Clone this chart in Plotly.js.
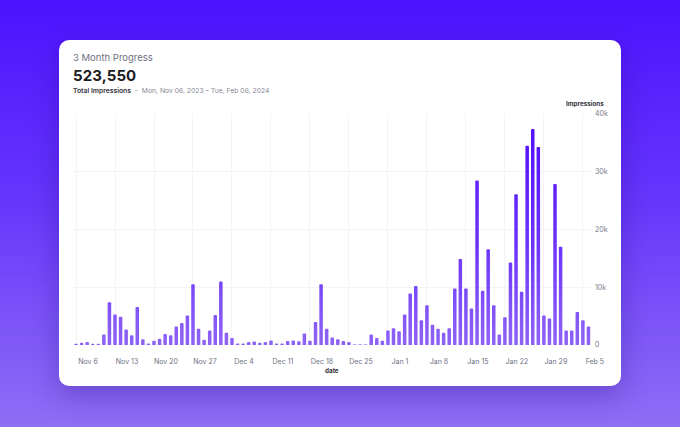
<!DOCTYPE html>
<html>
<head>
<meta charset="utf-8">
<script src="https://cdn.plot.ly/plotly-3.0.1.min.js"></script>
<style>
html,body{margin:0;padding:0;width:680px;height:427px;overflow:hidden;font-family:Inter,"Noto Sans",sans-serif;}
body{background:linear-gradient(180deg,#4d12ff 0%,#6534fc 45%,#8f6ef5 100%);position:relative;}
#card{position:absolute;left:59px;top:40px;width:562px;height:346px;background:#fff;border-radius:10px;box-shadow:0 10px 28px rgba(30,0,100,0.28);}
.txt{position:absolute;white-space:nowrap;}
#t1{left:73px;top:52px;font-size:9.5px;color:#70707f;}
#t2{left:73px;top:66px;font-size:15px;font-weight:700;color:#1c1c22;letter-spacing:0.1px;}
#t3{left:73px;top:86px;font-size:6.8px;color:#8a8a98;}
#t3 b{font-weight:600;color:#33333d;}
#chart{position:absolute;left:0;top:0;width:680px;height:427px;}
</style>
</head>
<body>
<div id="card"></div>
<div class="txt" id="t1">3 Month Progress</div>
<div class="txt" id="t2">523,550</div>
<div class="txt" id="t3"><b>Total Impressions</b>&nbsp; - &nbsp;Mon, Nov 06, 2023 – Tue, Feb 06, 2024</div>
<div id="chart"></div>
<script>
// Daily impressions from Mon Nov 06, 2023 to Tue Feb 06, 2024 (93 days)
const startDate = '2023-11-06';
const impressions = [
  200, 400, 500, 200, 200, 1800, 7400, 5300, 4900, 2700, 1700, 6600, 1000,
  250, 750, 1100, 1900, 1700, 3200, 3800, 5100, 10500, 2800, 900, 2500, 5200, 11000, 2100, 1200,
  250, 250, 500, 600, 400, 500, 800, 250, 250, 700, 800, 650, 2000, 750, 4000, 10500, 2800, 1300, 1000, 700, 500, 100, 100, 100,
  1800, 1200, 750, 2500, 2900, 2400, 5300, 8900, 10200, 4300, 6900, 3500, 2800, 2100, 2900,
  9800, 14900, 9800, 6300, 28500, 9400, 16600, 6900, 1800, 4800, 14300, 26100, 9200,
  34500, 37400, 34300, 5100, 4600, 27900, 17000, 2500, 2500, 5700, 4300, 3200
];
const tickDates = ['2023-11-06','2023-11-13','2023-11-20','2023-11-27','2023-12-04','2023-12-11','2023-12-18','2023-12-25','2024-01-01','2024-01-08','2024-01-15','2024-01-22','2024-01-29','2024-02-05'];
const tickLabels = ['Nov 6','Nov 13','Nov 20','Nov 27','Dec 4','Dec 11','Dec 18','Dec 25','Jan 1','Jan 8','Jan 15','Jan 22','Jan 29','Feb 5'];
const yTickVals = [0, 10000, 20000, 30000, 40000];
const yTickLabels = ['0', '10k', '20k', '30k', '40k'];

const dates = impressions.map((_, i) => {
  const d = new Date(startDate + 'T00:00:00Z');
  d.setUTCDate(d.getUTCDate() + i);
  return d.toISOString().slice(0, 10);
});

const trace = {
  type: 'bar',
  x: dates,
  y: impressions,
  marker: {
    color: impressions,
    colorscale: [[0, '#8d62f5'], [1, '#5410ff']],
    cmin: 0, cmax: 40000,
    line: {width: 0},
    cornerradius: 2
  },
  hoverinfo: 'skip'
};

const layout = {
  width: 680, height: 427,
  margin: {l: 73, r: 89, t: 114, b: 82},
  paper_bgcolor: 'rgba(0,0,0,0)',
  plot_bgcolor: 'rgba(0,0,0,0)',
  bargap: 0.37,
  showlegend: false,
  font: {family: 'Inter, "Noto Sans", sans-serif'},
  xaxis: {
    type: 'date',
    range: ['2023-11-05 11:00', '2024-02-06 11:00'],
    tickvals: tickDates,
    ticktext: tickLabels,
    tickfont: {size: 7, color: '#6f7084'},
    ticklabelshift: 12,
    ticklabelstandoff: 11,
    showgrid: true,
    gridcolor: '#f4f4f7',
    gridwidth: 1,
    zeroline: false,
    showline: false,
    ticks: ''
  },
  yaxis: {
    side: 'right',
    range: [0, 40000],
    tickvals: yTickVals,
    ticktext: yTickLabels,
    tickfont: {size: 7, color: '#7a7a8a'},
    ticklabelstandoff: 3,
    showgrid: true,
    gridcolor: '#f4f4f7',
    zeroline: false,
    showline: false,
    ticks: ''
  },
  annotations: [
    {text: '<b>Impressions</b>', xref: 'paper', yref: 'paper', x: 1.029, y: 1.043,
     xanchor: 'right', yanchor: 'middle', showarrow: false, font: {size: 6.3, color: '#33333d'}},
    {text: '<b>date</b>', xref: 'paper', yref: 'paper', x: 0.5, y: -0.113,
     xanchor: 'center', yanchor: 'middle', showarrow: false, font: {size: 6.3, color: '#33333d'}}
  ]
};

Plotly.newPlot('chart', [trace], layout, {displayModeBar: false, staticPlot: true}).then(gd => {
  const svg = gd.querySelector('svg.main-svg');
  const ns = 'http://www.w3.org/2000/svg';
  let defs = svg.querySelector('defs');
  if (!defs) { defs = document.createElementNS(ns, 'defs'); svg.insertBefore(defs, svg.firstChild); }
  const h = gd._fullLayout._size.h;
  const lg = document.createElementNS(ns, 'linearGradient');
  lg.setAttribute('id', 'barGrad');
  lg.setAttribute('gradientUnits', 'userSpaceOnUse');
  lg.setAttribute('x1', '0'); lg.setAttribute('x2', '0');
  lg.setAttribute('y1', String(h * 0.06)); lg.setAttribute('y2', String(h));
  [['0', '#5210ff'], ['0.55', '#6c34fa'], ['1', '#8e64f5']].forEach(([o, c]) => {
    const s = document.createElementNS(ns, 'stop');
    s.setAttribute('offset', o); s.setAttribute('stop-color', c);
    lg.appendChild(s);
  });
  defs.appendChild(lg);
  gd.querySelectorAll('.barlayer .point path').forEach(p => { p.style.fill = 'url(#barGrad)'; });
});
</script>
</body>
</html>
